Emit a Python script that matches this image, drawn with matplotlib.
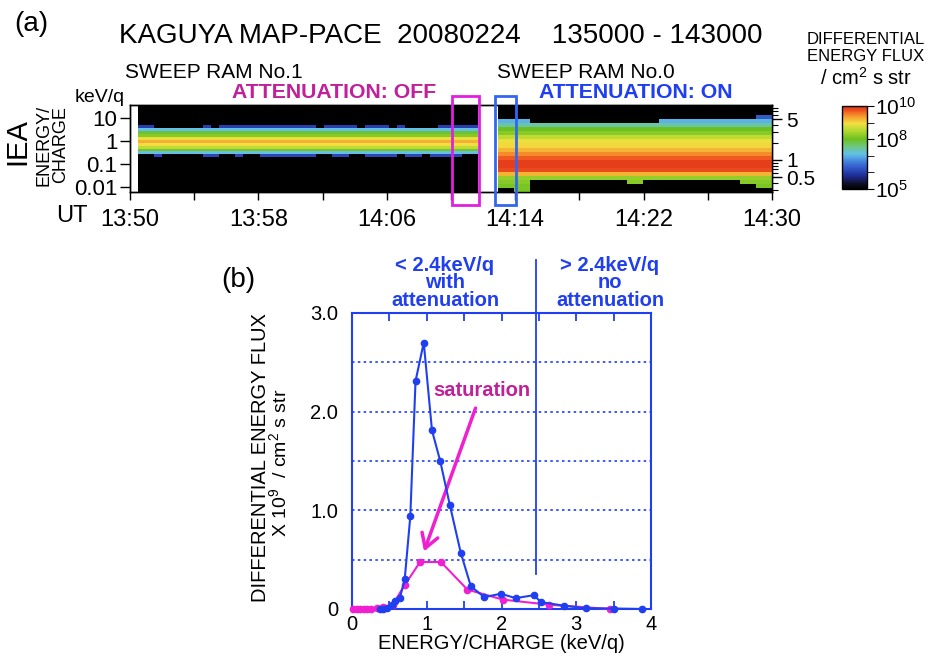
import numpy as np
import matplotlib
matplotlib.use("Agg")
from matplotlib import pyplot as plt
from matplotlib.colors import LinearSegmentedColormap, LogNorm
from matplotlib.cm import ScalarMappable
from matplotlib.patches import Rectangle
from matplotlib.ticker import FixedLocator, NullFormatter
import matplotlib.transforms as mtransforms

plt.rcParams['font.family'] = ['Liberation Sans', 'DejaVu Sans']
plt.rcParams['mathtext.fontset'] = 'custom'
plt.rcParams['mathtext.rm'] = 'Liberation Sans'
plt.rcParams['mathtext.default'] = 'regular'

W, H = 931, 664

# ---------------- (a) IEA energy-time spectrogram ----------------
# time is minutes after 13:50 UT
ram1_span = (0.5, 21.7)     # SWEEP RAM No.1, attenuation off
ram0_span = (22.9, 40.0)    # SWEEP RAM No.0, attenuation on

# RAM No.1 energy steps (keV/q, left axis) and typical log10 flux
ram1_energy = [0.224, 0.302, 0.407, 0.550, 0.741, 1.00, 1.35, 1.82, 2.45, 3.31, 4.47]
ram1_logflux = [6.1, 7.1, 8.1, 8.6, 8.95, 9.25, 8.9, 8.2, 7.9, 7.1, 6.0]
# minutes where the lowest / highest step has counts
ram1_low_on = [(1.4, 2.1), (4.7, 5.8), (6.4, 6.9), (7.9, 11.8), (12.6, 13.7),
               (14.5, 16.8), (17.3, 18.3), (18.9, 20.7)]
ram1_high_on = [(0.5, 1.4), (4.7, 5.2), (5.8, 11.7), (12.3, 14.0), (14.5, 16.2),
                (16.6, 17.0), (19.2, 21.7)]

# RAM No.0 energy steps (keV/q, right axis) and typical log10 flux
ram0_energy = [0.300, 0.355, 0.417, 0.490, 0.575, 0.676, 0.794, 0.933, 1.10, 1.29,
               1.51, 1.78, 2.09, 2.45, 2.88, 3.39, 3.98, 4.68, 5.50]
ram0_logflux = [8.1, 8.1, 8.2, 8.3, 9.2, 9.8, 9.9, 9.9, 9.7, 9.45,
                9.2, 9.0, 8.9, 8.6, 8.2, 8.0, 7.4, 7.0, 6.3]
# one-minute bins: lowest / highest energy with counts
ram0_low_kev = [0.37, 0.32, 0.49, 0.49, 0.49, 0.49, 0.51, 0.51, 0.44,
                0.51, 0.51, 0.51, 0.51, 0.51, 0.51, 0.40, 0.37]
ram0_high_kev = [4.7, 4.7, 4.3, 4.3, 4.3, 4.3, 4.3, 4.3, 4.0,
                 4.2, 4.9, 4.9, 4.9, 4.9, 4.9, 5.0, 5.2]

time_ticks = [0, 8, 16, 24, 32, 40]
time_labels = ['13:50', '13:58', '14:06', '14:14', '14:22', '14:30']
off_box = (20.06, 21.75)
on_box = (22.74, 24.05)

# ---------------- (b) energy spectra ----------------
on_kev = [0.37, 0.42, 0.47, 0.53, 0.58, 0.64, 0.705, 0.78, 0.85, 0.96, 1.07, 1.18,
          1.31, 1.455, 1.59, 1.77, 1.99, 2.19, 2.43, 2.53, 2.83, 3.13, 3.50, 3.88]
on_flux = [0.0, 0.0, 0.01, 0.04, 0.08, 0.11, 0.30, 0.94, 2.31, 2.70, 1.81, 1.50,
           1.05, 0.57, 0.23, 0.12, 0.155, 0.11, 0.14, 0.07, 0.034, 0.007, 0.005, 0.0]
off_kev = [0.02, 0.07, 0.11, 0.16, 0.20, 0.25, 0.33, 0.42, 0.545, 0.705, 0.91, 1.19,
           1.545, 2.02, 2.63, 3.45]
off_flux = [0.0, 0.0, 0.0, 0.0, 0.0, 0.0, 0.007, 0.02, 0.044, 0.243, 0.476, 0.476,
            0.196, 0.095, 0.044, 0.0]
cutoff_kev = 2.46

MAGENTA_TXT = '#c0209a'
MAGENTA = '#f020d0'
BLUE = '#1f3ff0'

cmap = LinearSegmentedColormap.from_list('dflux', [
    (0.00, '#000000'), (0.07, '#101030'), (0.17, '#2030a0'), (0.30, '#3a6fd8'),
    (0.42, '#62c0e8'), (0.52, '#70c878'), (0.60, '#6cc020'), (0.70, '#b0d830'),
    (0.79, '#f2e040'), (0.87, '#f5a030'), (0.94, '#f05a20'), (1.00, '#e03018')])
norm = LogNorm(1e5, 1e10)


def fxy(x, y):
    return x / W, 1 - y / H


def log_edges(centers):
    lc = np.log10(centers)
    mid = (lc[1:] + lc[:-1]) / 2
    return 10 ** np.concatenate([[2 * lc[0] - mid[0]], mid, [2 * lc[-1] - mid[-1]]])


def in_spans(t, spans):
    return np.array([any(a <= x < b for a, b in spans) for x in t])


fig = plt.figure(figsize=(W / 100, H / 100), dpi=100)

ax = fig.add_axes([130 / W, 1 - 192 / H, 642 / W, 87 / H])
ax.set_yscale('log')
ax.set_xlim(0, 40)
ax.set_ylim(10 ** -2.22, 10 ** 1.57)
axr = ax.twinx()
axr.set_yscale('log')
axr.set_ylim(10 ** -0.552, 10 ** 0.948)

# empty (no count) background of each sweep period
for span in (ram1_span, ram0_span):
    ax.axvspan(*span, color=cmap(0.0), lw=0, zorder=0)

# RAM No.1 band
t1 = np.linspace(ram1_span[0], ram1_span[1], 43)
tc1 = (t1[1:] + t1[:-1]) / 2
z1 = np.tile(10 ** np.array(ram1_logflux)[:, None], (1, len(tc1)))
z1[0, ~in_spans(tc1, ram1_low_on)] = np.nan
z1[-1, ~in_spans(tc1, ram1_high_on)] = np.nan
ax.pcolormesh(t1, log_edges(ram1_energy), np.ma.masked_invalid(z1),
              cmap=cmap, norm=norm, shading='flat', zorder=1)

# RAM No.0 band
t0 = np.linspace(ram0_span[0], ram0_span[1], len(ram0_low_kev) + 1)
le0 = np.log10(ram0_energy)
z0 = np.tile(10 ** np.array(ram0_logflux)[:, None], (1, len(ram0_low_kev)))
for j, (lo, hi) in enumerate(zip(ram0_low_kev, ram0_high_kev)):
    dark = (le0 < np.log10(lo) - 0.035) | (le0 > np.log10(hi) + 0.035)
    z0[dark, j] = np.nan
axr.pcolormesh(t0, log_edges(ram0_energy), np.ma.masked_invalid(z0),
               cmap=cmap, norm=norm, shading='flat', zorder=1)

# axes styling for (a)
for a in (ax, axr):
    for s in a.spines.values():
        s.set_linewidth(1.0)
ax.set_yticks([0.01, 0.1, 1, 10])
ax.set_yticklabels(['0.01', '0.1', '1', '10'])
ax.tick_params(axis='y', which='major', length=7, width=1, labelsize=16, pad=2)
ax.tick_params(axis='y', which='minor', length=4, width=0.8)
axr.set_yticks([0.5, 1, 5])
axr.set_yticklabels(['0.5', '1', '5'])
axr.yaxis.set_minor_locator(FixedLocator([0.3, 0.4, 0.6, 0.7, 0.8, 0.9, 2, 3, 4, 6, 7, 8]))
axr.yaxis.set_minor_formatter(NullFormatter())
axr.tick_params(axis='y', which='major', length=7, width=1, labelsize=15, pad=3)
axr.tick_params(axis='y', which='minor', length=4, width=0.8)
ax.set_xticks(time_ticks)
ax.set_xticklabels(time_labels)
ax.xaxis.set_minor_locator(FixedLocator([4, 12, 20, 28, 36]))
ax.tick_params(axis='x', which='both', length=6, width=1, labelsize=17, pad=6)

# attenuation windows
trans = mtransforms.blended_transform_factory(axr.transData, axr.transAxes)
for (a, b), col in ((off_box, '#e020e0'), (on_box, '#3366f0')):
    axr.add_patch(Rectangle((a, -0.149), b - a, 1.252, transform=trans, fill=False,
                            edgecolor=col, lw=2, clip_on=False, zorder=5))

fig.text(*fxy(14, 24), '(a)', fontsize=20, va='center')
fig.text(*fxy(441, 36), 'KAGUYA MAP-PACE  20080224    135000 - 143000',
         fontsize=20, ha='center', va='center')
fig.text(*fxy(125, 72), 'SWEEP RAM No.1', fontsize=15, va='center')
fig.text(*fxy(497, 72), 'SWEEP RAM No.0', fontsize=15, va='center')
fig.text(*fxy(334, 92), 'ATTENUATION: OFF', fontsize=15.3, fontweight='bold',
         color=MAGENTA_TXT, ha='center', va='center')
fig.text(*fxy(636, 92), 'ATTENUATION: ON', fontsize=15.3, fontweight='bold',
         color=BLUE, ha='center', va='center')
fig.text(*fxy(100, 97), 'keV/q', fontsize=14, ha='center', va='center')
fig.text(*fxy(17, 142), 'IEA', fontsize=21, rotation=90, ha='center', va='center')
fig.text(*fxy(52, 145), 'ENERGY/\nCHARGE', fontsize=13, rotation=90, ha='center',
         va='center', linespacing=1.0)
fig.text(*fxy(72, 216), 'UT', fontsize=17, ha='center', va='center')

# colour bar
cax = fig.add_axes([842 / W, 1 - 189 / H, 25 / W, 83 / H])
cb = fig.colorbar(ScalarMappable(norm=norm, cmap=cmap), cax=cax)
cb.set_ticks([1e5, 1e8, 1e10])
cb.set_ticklabels(['$10^5$', '$10^8$', '$10^{10}$'])
cax.yaxis.set_minor_locator(FixedLocator([1e6, 1e7, 1e9]))
cax.yaxis.set_minor_formatter(NullFormatter())
cax.tick_params(which='major', length=5, labelsize=15, pad=1)
cax.tick_params(which='minor', length=5)
cb.outline.set_linewidth(1)
fig.text(*fxy(866, 48), 'DIFFERENTIAL\nENERGY FLUX', fontsize=12, ha='center',
         va='center', linespacing=1.12)
fig.text(*fxy(866, 78), '/ cm$^2$ s str', fontsize=14.5, ha='center', va='center')

# ---------------- (b) ----------------
bx = fig.add_axes([352 / W, 1 - 609 / H, 299 / W, 296 / H])
bx.set_xlim(0, 4)
bx.set_ylim(0, 3)
for s in bx.spines.values():
    s.set_color(BLUE)
    s.set_linewidth(1.5)
for level in np.arange(0.5, 3.0, 0.5):
    bx.axhline(level, color=BLUE, lw=1.2, ls=(0, (1.5, 2)), zorder=1)

bx.plot(off_kev, off_flux, '-o', color=MAGENTA, ms=4.5, lw=1.5, clip_on=False, zorder=3)
bx.plot(on_kev, on_flux, '-o', color=BLUE, ms=4.5, lw=1.5, clip_on=False, zorder=4)
bx.plot([cutoff_kev, cutoff_kev], [0.35, 3.54], color=BLUE, lw=1.3, clip_on=False)

bx.annotate('', xy=(0.964, 0.584), xytext=(1.653, 2.036),
            arrowprops=dict(arrowstyle='->,head_length=0.5,head_width=0.3', color=MAGENTA,
                            lw=2.5, shrinkA=0, shrinkB=0, mutation_scale=20))
bx.text(1.74, 2.21, 'saturation', fontsize=14.5, fontweight='bold', color=MAGENTA_TXT,
        ha='center', va='center')

bx.set_xticks([0, 1, 2, 3, 4])
bx.xaxis.set_minor_locator(FixedLocator(np.arange(0.5, 4, 1.0)))
bx.tick_params(axis='x', which='both', direction='in', top=True, length=6, width=1.3,
               color=BLUE, labelsize=14.5, pad=4)
bx.set_yticks([0, 1, 2, 3])
bx.set_yticklabels(['0', '1.0', '2.0', '3.0'])
bx.tick_params(axis='y', length=0, labelsize=14.5, pad=10)
bx.set_xlabel('ENERGY/CHARGE (keV/q)', fontsize=14.5, labelpad=0)

fig.text(*fxy(260, 458), 'DIFFERENTIAL ENERGY FLUX', fontsize=14.5, rotation=90,
         ha='center', va='center')
fig.text(*fxy(279, 463), 'X $10^9$  / cm$^2$ s str', fontsize=14, rotation=90,
         ha='center', va='center')
fig.text(*fxy(238, 280), '(b)', fontsize=20, ha='center', va='center')
fig.text(*fxy(445, 256), '< 2.4keV/q\nwith\nattenuation', fontsize=14.5,
         fontweight='bold', color=BLUE, ha='center', va='top', linespacing=0.9)
fig.text(*fxy(610, 256), '> 2.4keV/q\nno\nattenuation', fontsize=14.5,
         fontweight='bold', color=BLUE, ha='center', va='top', linespacing=0.9)

fig.savefig('out.png', dpi=100)
